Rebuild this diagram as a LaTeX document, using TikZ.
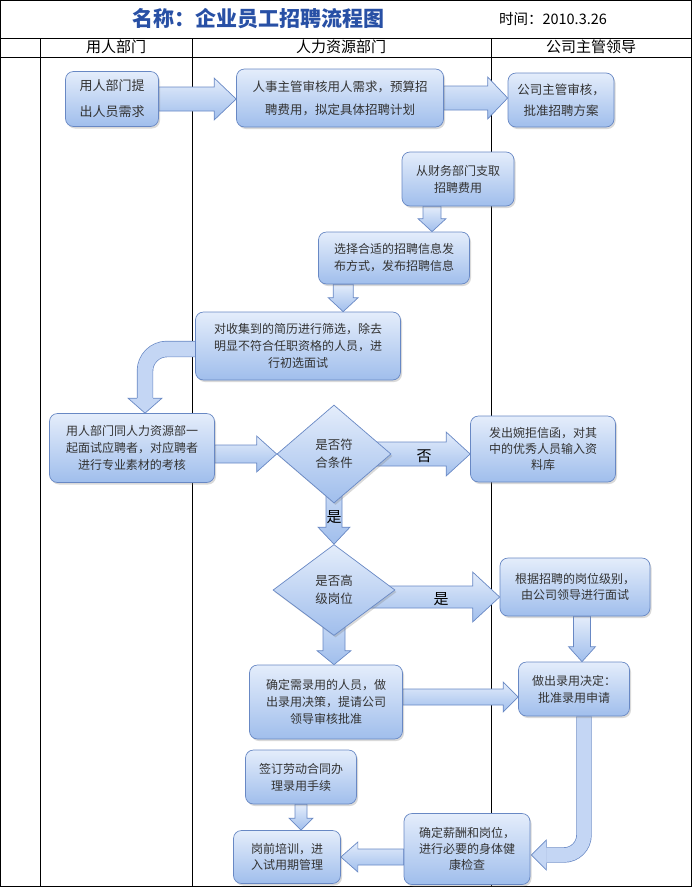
\documentclass[tikz,border=0pt]{standalone}
\usepackage{fontspec}
\setmainfont{Noto Sans CJK SC}
\usepackage{tikz}
\usetikzlibrary{calc,positioning,shapes.geometric,shadows}
\usepackage{xcolor}

\definecolor{boxtop}{RGB}{228,237,251}
\definecolor{boxbot}{RGB}{160,190,236}
\definecolor{boxline}{RGB}{104,136,196}
\definecolor{arrowfill}{RGB}{196,214,244}
\definecolor{titleblue}{RGB}{40,80,165}

\pgfdeclarelayer{grid}
\pgfdeclarelayer{arrows}
\pgfsetlayers{grid,arrows,main}

% block arrow: start, end, shaft half width, head half width, head length
\newcommand{\bigarrow}[5]{%
  \coordinate (bh) at ($(#2)!#5pt!(#1)$);
  \path[blockarrow] ($(#1)!#3pt!90:(#2)$) -- ($(bh)!#3pt!-90:(#1)$) -- ($(bh)!#4pt!-90:(#1)$) -- (#2)
    -- ($(bh)!#4pt!90:(#1)$) -- ($(bh)!#3pt!90:(#1)$) -- ($(#1)!#3pt!-90:(#2)$) -- cycle;}
% head of a bent arrow: base, tip, shaft half width, head half width
\newcommand{\bandhead}[4]{%
  \fill[arrowfill] ($(#1)!#4pt!90:(#2)$) -- (#2) -- ($(#1)!#4pt!-90:(#2)$) -- cycle;
  \draw[boxline, line width=0.7pt] ($(#1)!#3pt!90:(#2)$) -- ($(#1)!#4pt!90:(#2)$) -- (#2)
    -- ($(#1)!#4pt!-90:(#2)$) -- ($(#1)!#3pt!-90:(#2)$);}

\begin{document}
\begin{tikzpicture}[x=1pt, y=-1pt,
    box/.style={draw=boxline, line width=0.7pt, rounded corners=8pt, top color=boxtop, bottom color=boxbot, align=center, text=black!80, font=\fontsize{12}{17}\selectfont, inner sep=2pt, drop shadow={shadow xshift=1.5pt, shadow yshift=-2pt, opacity=0.3}},
    decision/.style={diamond, draw=boxline, line width=0.7pt, top color=boxtop, bottom color=boxbot, align=center, text=black!80, font=\fontsize{12.5}{18}\selectfont, inner sep=0pt, drop shadow={shadow xshift=1.5pt, shadow yshift=-2pt, opacity=0.3}},
    blockarrow/.style={draw=boxline, line width=0.7pt, top color=boxtop, bottom color=boxbot},
    band/.style={draw=boxline, line width=0.7pt, double=arrowfill},
    lane/.style={draw=black, line width=0.8pt},
    lanehead/.style={font=\fontsize{15}{15}\selectfont},
    armlabel/.style={font=\fontsize{15}{15}\selectfont, text=black}
]
    \useasboundingbox (0,0) rectangle (692,887);

    % Table
    \begin{pgfonlayer}{grid}
    \draw[lane] (0.6,0.6) rectangle (691.4,886.4);
    \draw[lane] (0,38) -- (692,38);
    \draw[lane] (0,57) -- (692,57);
    \draw[lane] (40,38) -- (40,887);
    \draw[lane] (192,38) -- (192,887);
    \draw[lane] (491,38) -- (491,887);
    \end{pgfonlayer}

    % Title and lane heads
    \node[font=\fontsize{21}{21}\selectfont\bfseries, text=titleblue] (title) at (258,19) {名称：企业员工招聘流程图};
    \node[font=\fontsize{14.5}{15}\selectfont] (date) at (553,19) {时间：2010.3.26};
    \node[lanehead] (lane1) at (116,47) {用人部门};
    \node[lanehead] (lane2) at (341,47) {人力资源部门};
    \node[lanehead] (lane3) at (591,47) {公司主管领导};

    % Steps
    \node[box, minimum width=93pt, minimum height=55pt, font=\fontsize{13}{26}\selectfont] (need) at (112,99) {用人部门提\\出人员需求};
    \node[box, minimum width=207pt, minimum height=58pt, font=\fontsize{12.5}{23}\selectfont] (plan) at (340,98) {人事主管审核用人需求，预算招\\聘费用，拟定具体招聘计划};
    \node[box, minimum width=106pt, minimum height=54pt, font=\fontsize{12.5}{21}\selectfont] (approve) at (561,100) {公司主管审核，\\批准招聘方案};
    \node[box, minimum width=112pt, minimum height=54pt] (fund) at (458,179) {从财务部门支取\\招聘费用};
    \node[box, minimum width=151pt, minimum height=52pt] (publish) at (394,258) {选择合适的招聘信息发\\布方式，发布招聘信息};
    \node[box, minimum width=205pt, minimum height=68pt] (screen) at (298,346) {对收集到的简历进行筛选，除去\\明显不符合任职资格的人员，进\\行初选面试};
    \node[box, minimum width=165pt, minimum height=69pt] (interview) at (132,448) {用人部门同人力资源部一\\起面试应聘者，对应聘者\\进行专业素材的考核};
    \node[decision, minimum width=114pt, minimum height=98pt] (qualify) at (334,454) {是否符\\合条件};
    \node[box, minimum width=145pt, minimum height=66pt, font=\fontsize{12}{16}\selectfont] (reject) at (543,449) {发出婉拒信函，对其\\中的优秀人员输入资\\料库};
    \node[decision, minimum width=122pt, minimum height=91pt] (senior) at (334,590) {是否高\\级岗位};
    \node[box, minimum width=150pt, minimum height=58pt, font=\fontsize{12}{16}\selectfont] (leadint) at (575,587) {根据招聘的岗位级别，\\由公司领导进行面试};
    \node[box, minimum width=111pt, minimum height=54pt] (decide) at (574,689) {做出录用决定：\\批准录用申请};
    \node[box, minimum width=153pt, minimum height=74pt] (confirm) at (326,702) {确定需录用的人员，做\\出录用决策，提请公司\\领导审核批准};
    \node[box, minimum width=111pt, minimum height=54pt] (contract) at (301,777) {签订劳动合同办\\理录用手续};
    \node[box, minimum width=107pt, minimum height=53pt, font=\fontsize{12}{16}\selectfont] (train) at (287,857) {岗前培训，进\\入试用期管理};
    \node[box, minimum width=126pt, minimum height=71pt, font=\fontsize{12}{16}\selectfont] (salary) at (467,849) {确定薪酬和岗位，\\进行必要的身体健\\康检查};

    % Arrows
    \begin{pgfonlayer}{arrows}
    \bigarrow{need.east}{need.east -| plan.west}{12}{21}{22}
    \bigarrow{plan.east}{plan.east -| approve.west}{12}{21}{20}
    \coordinate (a3s) at ($(fund.south)+(-26,0)$);
    \bigarrow{a3s}{a3s |- publish.north}{9}{14}{13}
    \coordinate (a4s) at ($(publish.south west)+(25,0)$);
    \bigarrow{a4s}{a4s |- screen.north}{10}{15}{14}
    \coordinate (a5s) at ($(screen.west)+(0,3)$);
    \coordinate (a5t) at ($(interview.north)+(13,0)$);
    \coordinate (a5b) at ($(a5t)+(0,-15)$);
    \draw[band, double distance=15pt, rounded corners=22pt] (a5s) -| (a5b);
    \bandhead{a5b}{a5t}{8}{17}
    \bigarrow{interview.east |- qualify.west}{qualify.west}{9}{18}{20}
    \bigarrow{qualify.center}{qualify.center -| reject.west}{12}{22}{24}
    \bigarrow{qualify.center}{senior.north}{8}{16}{17}
    \coordinate (a9s) at ($(senior.center)+(0,7)$);
    \bigarrow{a9s}{a9s -| leadint.west}{11}{25}{27}
    \coordinate (a10s) at ($(leadint.south)+(7,0)$);
    \bigarrow{a10s}{a10s |- decide.north}{8.5}{13.5}{15}
    \bigarrow{senior.center}{senior.center |- confirm.north}{11}{17}{14}
    \coordinate (a12s) at ($(confirm.east)+(0,-5)$);
    \bigarrow{a12s}{a12s -| decide.west}{8}{15}{15}
    \bigarrow{contract.south}{contract.south |- train.north}{6}{12}{12}
    \bigarrow{salary.west |- train.east}{train.east}{8}{15}{17}
    \coordinate (a15s) at ($(decide.south)+(10,0)$);
    \coordinate (a15t) at ($(salary.east)+(1,6)$);
    \coordinate (a15b) at ($(a15t)+(15,0)$);
    \draw[band, double distance=14pt, rounded corners=20pt] (a15s) |- (a15b);
    \bandhead{a15b}{a15t}{7.5}{15}
    \end{pgfonlayer}

    % Arrow labels
    \node[armlabel] (nolabel) at (424,456) {否};
    \node[armlabel] (yes1) at (334,517) {是};
    \node[armlabel] (yes2) at (441,599) {是};
\end{tikzpicture}
\end{document}
